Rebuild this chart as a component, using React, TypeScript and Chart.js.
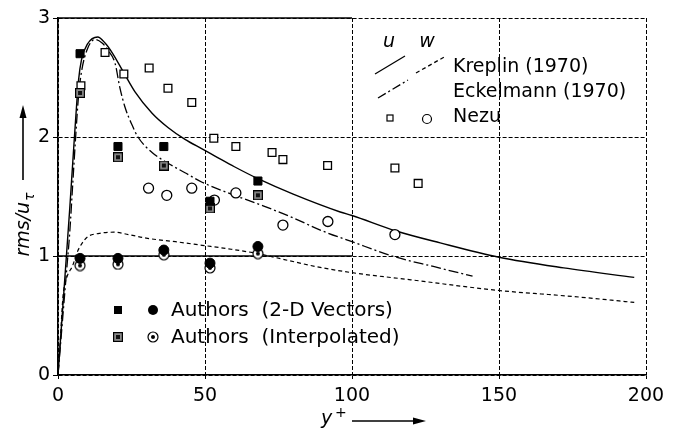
import React, { useEffect, useRef } from "react";
import { Chart, registerables } from "chart.js";
Chart.register(...registerables);

// ---- data ----
const xTicks = [0, 50, 100, 150, 200];
const yTicks = [0, 1, 2, 3];

const authorsX = [7.5, 20.4, 36, 51.7, 68];
const authorsVecU = [2.7, 1.92, 1.92, 1.46, 1.63];
const authorsIntU = [2.37, 1.83, 1.76, 1.4, 1.51];
const authorsVecW = [0.98, 0.98, 1.05, 0.94, 1.08];
const authorsIntW = [0.92, 0.93, 1.01, 0.9, 1.02];

const nezuUX = [7.8, 16, 22.4, 31, 37.4, 45.5, 53, 60.5, 72.8, 76.5, 91.7, 114.6, 122.5];
const nezuUY = [2.43, 2.71, 2.53, 2.58, 2.41, 2.29, 1.99, 1.92, 1.87, 1.81, 1.76, 1.74, 1.61];
const nezuWX = [30.8, 37, 45.5, 53.2, 60.5, 76.5, 91.8, 114.6];
const nezuWY = [1.57, 1.51, 1.57, 1.47, 1.53, 1.26, 1.29, 1.18];

const kreplinUX = [0, 1, 2, 3, 4, 5, 6, 7, 8, 10, 13.5, 16, 18.4, 22.4, 26.2, 32, 37.4, 43.2, 49, 53.4, 60, 68, 80, 96, 100, 115, 130, 150, 172, 196];
const kreplinUY = [0, 0.35, 0.7, 1.05, 1.4, 1.78, 2.15, 2.48, 2.65, 2.78, 2.84, 2.79, 2.71, 2.54, 2.38, 2.2, 2.08, 1.98, 1.9, 1.84, 1.75, 1.65, 1.52, 1.37, 1.34, 1.21, 1.11, 0.99, 0.9, 0.82];

const kreplinWX = [0, 0.8, 1.7, 3, 5, 6.5, 8, 10, 14, 19, 24, 30, 40, 49, 58, 68, 77, 88, 100, 120, 150, 175, 196];
const kreplinWY = [0, 0.3, 0.66, 0.82, 0.92, 1.03, 1.1, 1.16, 1.19, 1.2, 1.18, 1.15, 1.12, 1.09, 1.06, 1.02, 0.97, 0.91, 0.86, 0.8, 0.71, 0.66, 0.61];

const eckelUX = [0, 1, 2, 3, 4, 5, 6, 7, 8, 10, 12.6, 15, 17, 19.4, 21, 22.8, 25.2, 27.2, 32, 37.4, 43.2, 49, 60, 70, 80, 90, 100, 115, 128, 141];
const eckelUY = [0, 0.3, 0.6, 0.9, 1.2, 1.6, 2.0, 2.35, 2.55, 2.74, 2.82, 2.79, 2.73, 2.62, 2.42, 2.25, 2.1, 2.0, 1.87, 1.78, 1.7, 1.62, 1.51, 1.42, 1.32, 1.21, 1.12, 0.99, 0.91, 0.83];

const solidRefY = [1, 3];
const solidRefXEnd = 100;

const legendTop = ["Kreplin (1970)", "Eckelmann (1970)", "Nezu"];
const legendBottom = ["Authors  (2-D Vectors)", "Authors  (Interpolated)"];

const FONT = '"DejaVu Sans", "Liberation Sans", sans-serif';

const pts = (xs: number[], ys: number[]) => xs.map((x, i) => ({ x, y: ys[i] }));

function makeInterpSquare(): HTMLCanvasElement {
  const c = document.createElement("canvas");
  c.width = 10; c.height = 10;
  const g = c.getContext("2d")!;
  g.fillStyle = "#8a8a8a";
  g.fillRect(0, 0, 10, 10);
  g.strokeStyle = "#000"; g.lineWidth = 1.2;
  g.strokeRect(0.6, 0.6, 8.8, 8.8);
  g.fillStyle = "#111";
  g.fillRect(3, 3, 4, 4);
  return c;
}
function makeBullseye(): HTMLCanvasElement {
  const c = document.createElement("canvas");
  c.width = 12; c.height = 12;
  const g = c.getContext("2d")!;
  g.fillStyle = "#fff"; g.strokeStyle = "#000"; g.lineWidth = 1.2;
  g.beginPath(); g.arc(6, 6, 5, 0, Math.PI * 2); g.fill(); g.stroke();
  g.fillStyle = "#000";
  g.beginPath(); g.arc(6, 6, 2, 0, Math.PI * 2); g.fill();
  return c;
}

export default function App() {
  const ref = useRef<HTMLCanvasElement>(null);
  useEffect(() => {
    document.body.style.margin = "0";
    const sq = makeInterpSquare();
    const bull = makeBullseye();

    const arrow = (ctx: CanvasRenderingContext2D, x1: number, y1: number, x2: number, y2: number) => {
      ctx.save();
      ctx.strokeStyle = "#000"; ctx.fillStyle = "#000"; ctx.lineWidth = 1.6; ctx.setLineDash([]);
      const ang = Math.atan2(y2 - y1, x2 - x1);
      const hl = 13, hw = 3.5;
      const bx = x2 - hl * Math.cos(ang), by = y2 - hl * Math.sin(ang);
      ctx.beginPath(); ctx.moveTo(x1, y1); ctx.lineTo(bx, by); ctx.stroke();
      ctx.beginPath();
      ctx.moveTo(x2, y2);
      ctx.lineTo(bx + hw * Math.sin(ang), by - hw * Math.cos(ang));
      ctx.lineTo(bx - hw * Math.sin(ang), by + hw * Math.cos(ang));
      ctx.closePath(); ctx.fill();
      ctx.restore();
    };

    const overlay = {
      id: "overlay",
      beforeDatasetsDraw(chart: any) {
        const ctx = chart.ctx as CanvasRenderingContext2D;
        const xs = chart.scales.x, ys = chart.scales.y;
        ctx.save();
        ctx.strokeStyle = "#000"; ctx.lineWidth = 1.5; ctx.setLineDash([]);
        for (const v of solidRefY) {
          const py = ys.getPixelForValue(v);
          ctx.beginPath();
          ctx.moveTo(xs.getPixelForValue(0), py);
          ctx.lineTo(xs.getPixelForValue(solidRefXEnd), py);
          ctx.stroke();
        }
        ctx.restore();
      },
      afterDraw(chart: any) {
        const ctx = chart.ctx as CanvasRenderingContext2D;
        ctx.save();
        ctx.fillStyle = "#000"; ctx.strokeStyle = "#000";
        // top-right legend
        ctx.font = `italic 19px ${FONT}`;
        ctx.textAlign = "center"; ctx.textBaseline = "middle";
        ctx.fillText("u", 389, 42);
        ctx.fillText("w", 427, 42);
        ctx.lineWidth = 1.3;
        ctx.setLineDash([]);
        ctx.beginPath(); ctx.moveTo(375, 74); ctx.lineTo(405, 56); ctx.stroke();
        ctx.setLineDash([4, 3]);
        ctx.beginPath(); ctx.moveTo(416, 73); ctx.lineTo(446, 56); ctx.stroke();
        ctx.setLineDash([9, 3, 2, 3]);
        ctx.beginPath(); ctx.moveTo(378, 98); ctx.lineTo(408, 80); ctx.stroke();
        ctx.setLineDash([]);
        ctx.lineWidth = 1.2;
        ctx.strokeRect(387, 115, 6, 6);
        ctx.beginPath(); ctx.arc(427, 119, 4.5, 0, Math.PI * 2); ctx.stroke();
        ctx.font = `19px ${FONT}`;
        ctx.textAlign = "left";
        ctx.fillText(legendTop[0], 453, 67);
        ctx.fillText(legendTop[1], 453, 92);
        ctx.fillText(legendTop[2], 453, 117);
        // bottom legend
        ctx.fillRect(114, 306, 8, 8);
        ctx.beginPath(); ctx.arc(153, 310, 5, 0, Math.PI * 2); ctx.fill();
        ctx.drawImage(sq, 113, 332);
        ctx.drawImage(bull, 147, 331);
        ctx.font = `20px ${FONT}`;
        ctx.fillText(legendBottom[0], 171, 311);
        ctx.fillText(legendBottom[1], 171, 338);
        // y axis title
        ctx.save();
        ctx.translate(24, 225);
        ctx.rotate(-Math.PI / 2);
        ctx.font = `italic 19px ${FONT}`;
        const main = "rms/u";
        const mw = ctx.measureText(main).width;
        ctx.font = `italic 14px ${FONT}`;
        const sw = ctx.measureText("τ").width;
        const start = -(mw + sw) / 2;
        ctx.textAlign = "left"; ctx.textBaseline = "alphabetic";
        ctx.font = `italic 19px ${FONT}`;
        ctx.fillText(main, start, 5);
        ctx.font = `italic 14px ${FONT}`;
        ctx.fillText("τ", start + mw + 1, 10);
        ctx.restore();
        arrow(ctx, 23, 180, 23, 105);
        // x axis title
        ctx.font = `italic 19px ${FONT}`;
        ctx.textAlign = "left"; ctx.textBaseline = "alphabetic";
        ctx.fillText("y", 321, 424);
        ctx.font = `14px ${FONT}`;
        ctx.fillText("+", 335, 417);
        arrow(ctx, 352, 421, 426, 421);
        ctx.restore();
      },
    };

    const chart = new Chart(ref.current!, {
      type: "scatter",
      data: {
        datasets: [
          { label: "Authors u (2-D)", data: pts(authorsX, authorsVecU), pointStyle: "rect", pointRadius: 5.7, backgroundColor: "#000", borderColor: "#000", borderWidth: 1 },
          { label: "Authors w (2-D)", data: pts(authorsX, authorsVecW), pointStyle: "circle", pointRadius: 5, backgroundColor: "#000", borderColor: "#000", borderWidth: 1 },
          { label: "Authors u (interp)", data: pts(authorsX, authorsIntU), pointStyle: sq, pointRadius: 5 },
          { label: "Authors w (interp)", data: pts(authorsX, authorsIntW), pointStyle: bull, pointRadius: 6 },
          { label: "Nezu u", data: pts(nezuUX, nezuUY), pointStyle: "rect", pointRadius: 5.5, backgroundColor: "#fff", borderColor: "#000", borderWidth: 1.3 },
          { label: "Nezu w", data: pts(nezuWX, nezuWY), pointStyle: "circle", pointRadius: 5, backgroundColor: "#fff", borderColor: "#000", borderWidth: 1.3 },
          { label: "Kreplin u", data: pts(kreplinUX, kreplinUY), showLine: true, pointRadius: 0, borderColor: "#000", borderWidth: 1.4, cubicInterpolationMode: "monotone" },
          { label: "Kreplin w", data: pts(kreplinWX, kreplinWY), showLine: true, pointRadius: 0, borderColor: "#000", borderWidth: 1.2, borderDash: [4, 3], cubicInterpolationMode: "monotone" },
          { label: "Eckelmann u", data: pts(eckelUX, eckelUY), showLine: true, pointRadius: 0, borderColor: "#000", borderWidth: 1.3, borderDash: [10, 3, 2, 3], cubicInterpolationMode: "monotone" },
        ] as any,
      },
      options: {
        responsive: false,
        animation: false,
        events: [],
        layout: { padding: { top: 18, right: 29, left: 0, bottom: 0 } },
        plugins: { legend: { display: false }, tooltip: { enabled: false }, title: { display: false } },
        scales: {
          x: {
            type: "linear", min: 0, max: 200,
            afterBuildTicks: (s: any) => { s.ticks = xTicks.map((v) => ({ value: v })); },
            afterFit: (s: any) => { s.height = 58; },
            ticks: { color: "#000", font: { family: FONT, size: 19 }, padding: 6 },
            grid: { color: "#000", lineWidth: 1, tickLength: 4, tickColor: "#000" },
            border: { display: true, color: "#000", width: 1.6, dash: [4, 2] },
          },
          y: {
            type: "linear", min: 0, max: 3,
            afterBuildTicks: (s: any) => { s.ticks = yTicks.map((v) => ({ value: v })); },
            afterFit: (s: any) => { s.width = 58; },
            ticks: { color: "#000", font: { family: FONT, size: 19 }, padding: 3 },
            grid: { color: "#000", lineWidth: 1, tickLength: 5, tickColor: "#000" },
            border: { display: true, color: "#000", width: 1.6, dash: [4, 2] },
          },
        },
      } as any,
      plugins: [overlay],
    });
    return () => chart.destroy();
  }, []);
  return (
    <div style={{ width: 675, height: 433, background: "#fff" }}>
      <canvas ref={ref} width={675} height={433} style={{ width: 675, height: 433, display: "block" }} />
    </div>
  );
}
